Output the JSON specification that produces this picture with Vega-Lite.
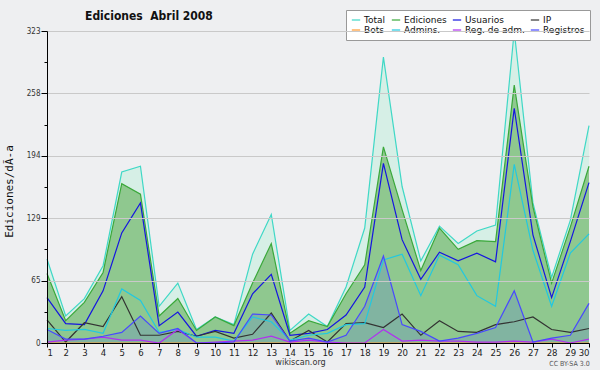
{
  "$schema": "https://vega.github.io/schema/vega-lite/v6.json",
  "width": 542,
  "height": 312,
  "autosize": {"type": "none"},
  "padding": {"left": 47, "top": 31, "right": 11, "bottom": 27},
  "background": "#eeeff1",
  "config": {"font": "DejaVu Sans", "view": {"stroke": null}},
  "title": {"text": "Ediciones\u00a0 Abril 2008", "anchor": "start", "frame": "group", "dx": 38, "dy": 17, "font": "DejaVu Sans Condensed", "fontSize": 12, "fontWeight": "bold", "color": "#111111"},
  "data": {"values": [
    {"day": 1, "Total": 87, "Ediciones": 72, "Usuarios": 47, "IP": 24, "Bots": 0, "Admins": 15, "Reg de adm": 1, "Registros": 14},
    {"day": 2, "Total": 28, "Ediciones": 23, "Usuarios": 20, "IP": 1, "Bots": 0, "Admins": 13, "Reg de adm": 3, "Registros": 4},
    {"day": 3, "Total": 46, "Ediciones": 42, "Usuarios": 19, "IP": 21, "Bots": 0, "Admins": 14, "Reg de adm": 4, "Registros": 4},
    {"day": 4, "Total": 80, "Ediciones": 73, "Usuarios": 54, "IP": 17, "Bots": 0, "Admins": 10, "Reg de adm": 6, "Registros": 7},
    {"day": 5, "Total": 177, "Ediciones": 165, "Usuarios": 114, "IP": 48, "Bots": 0, "Admins": 56, "Reg de adm": 3, "Registros": 11},
    {"day": 6, "Total": 183, "Ediciones": 154, "Usuarios": 145, "IP": 8, "Bots": 0, "Admins": 44, "Reg de adm": 3, "Registros": 28},
    {"day": 7, "Total": 38, "Ediciones": 28, "Usuarios": 18, "IP": 8, "Bots": 0, "Admins": 11, "Reg de adm": 0, "Registros": 10},
    {"day": 8, "Total": 62, "Ediciones": 46, "Usuarios": 32, "IP": 12, "Bots": 0, "Admins": 14, "Reg de adm": 14, "Registros": 15},
    {"day": 9, "Total": 14, "Ediciones": 13, "Usuarios": 7, "IP": 7, "Bots": 0, "Admins": 6, "Reg de adm": 0, "Registros": 0},
    {"day": 10, "Total": 27, "Ediciones": 27, "Usuarios": 13, "IP": 12, "Bots": 0, "Admins": 6, "Reg de adm": 1, "Registros": 0},
    {"day": 11, "Total": 19, "Ediciones": 18, "Usuarios": 10, "IP": 5, "Bots": 0, "Admins": 2, "Reg de adm": 2, "Registros": 1},
    {"day": 12, "Total": 92, "Ediciones": 62, "Usuarios": 51, "IP": 9, "Bots": 0, "Admins": 27, "Reg de adm": 3, "Registros": 30},
    {"day": 13, "Total": 133, "Ediciones": 103, "Usuarios": 71, "IP": 31, "Bots": 0, "Admins": 22, "Reg de adm": 7, "Registros": 29},
    {"day": 14, "Total": 13, "Ediciones": 10, "Usuarios": 8, "IP": 2, "Bots": 0, "Admins": 3, "Reg de adm": 1, "Registros": 2},
    {"day": 15, "Total": 30, "Ediciones": 23, "Usuarios": 10, "IP": 13, "Bots": 0, "Admins": 8, "Reg de adm": 3, "Registros": 5},
    {"day": 16, "Total": 17, "Ediciones": 17, "Usuarios": 14, "IP": 1, "Bots": 0, "Admins": 10, "Reg de adm": 1, "Registros": 1},
    {"day": 17, "Total": 58, "Ediciones": 51, "Usuarios": 29, "IP": 20, "Bots": 0, "Admins": 19, "Reg de adm": 0, "Registros": 8},
    {"day": 18, "Total": 119, "Ediciones": 81, "Usuarios": 58, "IP": 21, "Bots": 0, "Admins": 20, "Reg de adm": 0, "Registros": 38},
    {"day": 19, "Total": 296, "Ediciones": 203, "Usuarios": 186, "IP": 16, "Bots": 0, "Admins": 86, "Reg de adm": 14, "Registros": 90},
    {"day": 20, "Total": 162, "Ediciones": 138, "Usuarios": 107, "IP": 30, "Bots": 0, "Admins": 92, "Reg de adm": 2, "Registros": 19},
    {"day": 21, "Total": 85, "Ediciones": 75, "Usuarios": 66, "IP": 8, "Bots": 0, "Admins": 49, "Reg de adm": 3, "Registros": 12},
    {"day": 22, "Total": 121, "Ediciones": 119, "Usuarios": 94, "IP": 23, "Bots": 0, "Admins": 91, "Reg de adm": 2, "Registros": 2},
    {"day": 23, "Total": 103, "Ediciones": 97, "Usuarios": 85, "IP": 12, "Bots": 0, "Admins": 81, "Reg de adm": 2, "Registros": 5},
    {"day": 24, "Total": 116, "Ediciones": 106, "Usuarios": 93, "IP": 11, "Bots": 0, "Admins": 49, "Reg de adm": 1, "Registros": 10},
    {"day": 25, "Total": 122, "Ediciones": 105, "Usuarios": 84, "IP": 19, "Bots": 0, "Admins": 38, "Reg de adm": 1, "Registros": 16},
    {"day": 26, "Total": 323, "Ediciones": 267, "Usuarios": 243, "IP": 22, "Bots": 0, "Admins": 185, "Reg de adm": 2, "Registros": 54},
    {"day": 27, "Total": 145, "Ediciones": 141, "Usuarios": 112, "IP": 27, "Bots": 0, "Admins": 96, "Reg de adm": 1, "Registros": 1},
    {"day": 28, "Total": 68, "Ediciones": 62, "Usuarios": 47, "IP": 14, "Bots": 0, "Admins": 38, "Reg de adm": 4, "Registros": 5},
    {"day": 29, "Total": 127, "Ediciones": 120, "Usuarios": 105, "IP": 11, "Bots": 0, "Admins": 93, "Reg de adm": 0, "Registros": 8},
    {"day": 30, "Total": 225, "Ediciones": 183, "Usuarios": 166, "IP": 15, "Bots": 0, "Admins": 113, "Reg de adm": 4, "Registros": 41}
  ]},
  "encoding": {
    "x": {
      "field": "day", "type": "quantitative",
      "scale": {"domain": [1, 30], "nice": false, "zero": false},
      "axis": {
        "values": [1,2,3,4,5,6,7,8,9,10,11,12,13,14,15,16,17,18,19,20,21,22,23,24,25,26,27,28,29,30],
        "format": "d", "labelAngle": 0, "grid": false, "zindex": 1,
        "domainColor": "#000000", "tickColor": "#000000", "tickSize": 4,
        "labelFont": "DejaVu Sans Condensed", "labelFontSize": 9.5, "labelColor": "#222222", "labelPadding": 0,
        "title": "wikiscan.org", "titleFont": "DejaVu Sans Condensed", "titleFontSize": 9, "titleFontWeight": "normal",
        "titleColor": "#333333", "titleX": 253, "titleY": 18, "titleAlign": "center", "titleBaseline": "middle"
      }
    }
  },
  "resolve": {"axis": {"y": "independent"}},
  "layer": [
    {
      "mark": {"type": "area", "fill": "#d6efe6", "stroke": null},
      "encoding": {
        "y": {"field": "Total", "type": "quantitative", "stack": null, "scale": {"domain": [0, 323], "nice": false},
          "axis": {
            "orient": "left", "zindex": 1,
            "values": [0, 32.3, 64.6, 96.9, 129.2, 161.5, 193.8, 226.1, 258.4, 290.7, 323],
            "labelExpr": "round(datum.value / 32.3) % 2 == 0 ? format(datum.value, '.0f') : ''",
            "grid": true,
            "gridColor": {"condition": {"test": "round(datum.value / 32.3) % 2 == 0", "value": "#c9c9c9"}, "value": "transparent"},
            "tickSize": {"condition": {"test": "round(datum.value / 32.3) % 2 == 0", "value": 6}, "value": 3},
            "domainColor": "#000000", "tickColor": "#000000",
            "labelFont": "DejaVu Sans Condensed", "labelFontSize": 8, "labelColor": "#333333", "labelPadding": 1,
            "title": "Ediciones/dÃ-a", "titleFont": "DejaVu Sans Mono", "titleFontSize": 11, "titleFontWeight": "normal",
            "titleColor": "#111111", "titleX": -38, "titleY": 160, "titleBaseline": "middle", "titleAngle": -90, "titleAlign": "center"
          }
        }
      }
    },
    {
      "mark": {"type": "area", "fill": "#8fc88f", "stroke": null},
      "encoding": {"y": {"field": "Ediciones", "type": "quantitative", "stack": null, "scale": {"domain": [0, 323], "nice": false}, "axis": null}}
    },
    {
      "mark": {"type": "area", "fill": "#4455ff", "fillOpacity": 0.17, "stroke": null},
      "encoding": {"y": {"field": "Registros", "type": "quantitative", "stack": null, "scale": {"domain": [0, 323], "nice": false},
        "axis": {"orient": "right", "labels": false, "ticks": false, "domain": false, "grid": false,
          "title": "CC BY-SA 3.0", "titleFont": "DejaVu Sans Condensed", "titleFontSize": 7, "titleFontWeight": "normal", "titleColor": "#555555",
          "titleAngle": 0, "titleX": -20, "titleY": 332, "titleAlign": "center", "titleBaseline": "middle"}}}
    },
    {
      "transform": [{"fold": ["Total", "Ediciones", "Usuarios", "IP", "Bots", "Admins", "Reg de adm", "Registros"], "as": ["serie", "valor"]}],
      "mark": {"type": "line", "strokeWidth": 1.2},
      "encoding": {
        "y": {"field": "valor", "type": "quantitative", "scale": {"domain": [0, 323], "nice": false}, "axis": null},
        "stroke": {
          "field": "serie", "type": "nominal",
          "scale": {
            "domain": ["Total", "Ediciones", "Usuarios", "IP", "Bots", "Admins", "Reg de adm", "Registros"],
            "range": ["#3fd8c6", "#3aa83a", "#1515e0", "#333333", "#ff9933", "#22c8e0", "#b030f0", "#4848ff"]
          },
          "legend": {
            "orient": "none", "legendX": 299, "legendY": -21, "direction": "horizontal", "columns": 4,
            "title": null, "symbolType": "stroke", "symbolSize": 70, "symbolStrokeWidth": 1.2,
            "labelFont": "DejaVu Sans", "labelFontSize": 9, "labelColor": "#111111", "labelOffset": 3,
            "labelExpr": "datum.label == 'Admins' ? 'Admins.' : datum.label == 'Reg de adm' ? 'Reg. de adm.' : datum.label",
            "rowPadding": 0, "columnPadding": 3, "padding": 5,
            "fillColor": "#ffffff", "strokeColor": "#999999"
          }
        }
      }
    }
  ]
}
